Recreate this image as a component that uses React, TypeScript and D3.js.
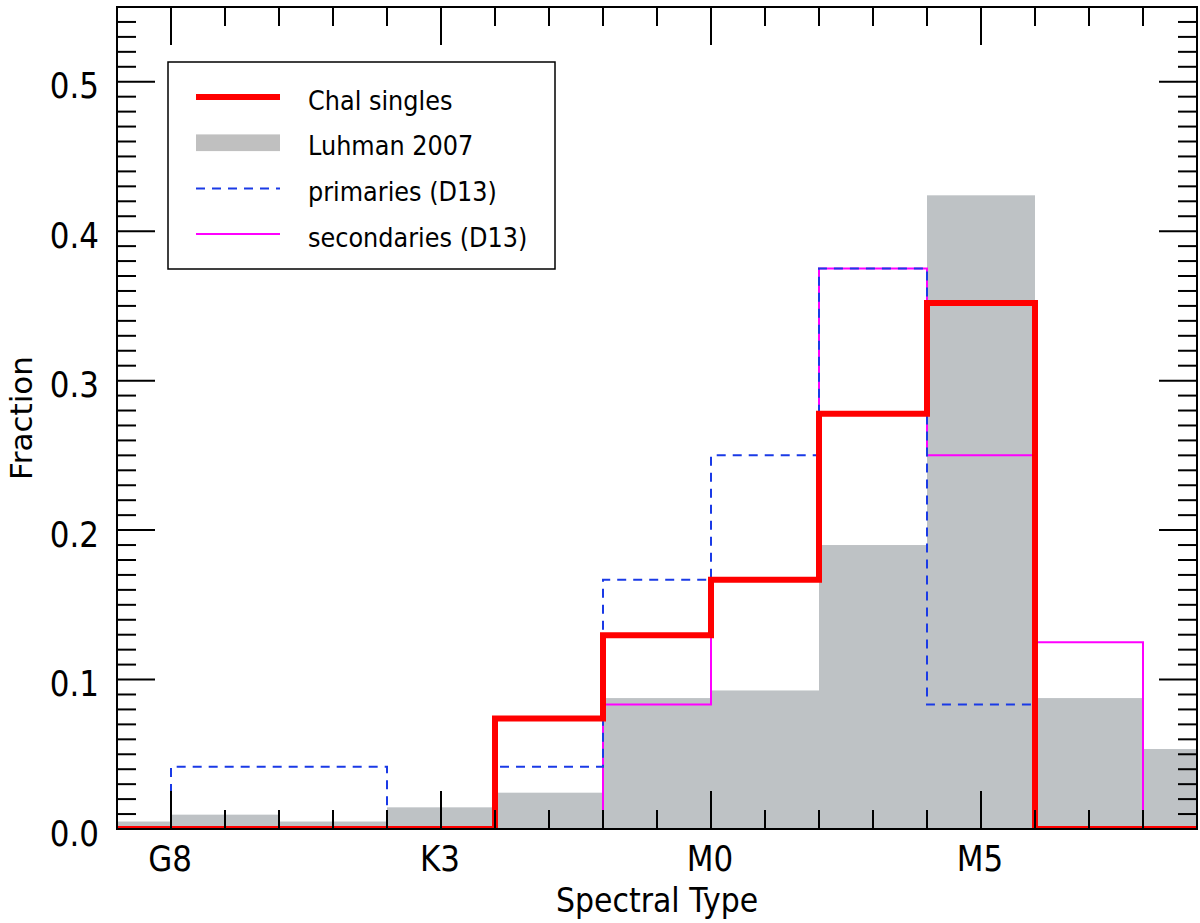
import * as d3 from 'd3'

// histogram bins: 2 subtypes wide, G8 = 0, K3 = 5, M0 = 10, M5 = 15
const binStarts = [-2, 0, 2, 4, 6, 8, 10, 12, 14, 16, 18]
const binWidth = 2

const luhman = [0.005, 0.0096, 0.005, 0.0145, 0.0243, 0.0876, 0.0927, 0.19, 0.424, 0.0876, 0.0535]
const chalSingles = [0, 0, 0, 0, 0.074, 0.1296, 0.1667, 0.2778, 0.3519, 0, 0]
const primaries = [0, 0.0417, 0.0417, 0, 0.0417, 0.1667, 0.25, 0.375, 0.0833, 0, 0]
const secondaries = [0, 0, 0, 0, 0, 0.0833, 0.1667, 0.375, 0.25, 0.125, 0]

const xTickLabels = [
  { value: 0, label: 'G8' },
  { value: 5, label: 'K3' },
  { value: 10, label: 'M0' },
  { value: 15, label: 'M5' }
]
const yTickLabels = ['0.0', '0.1', '0.2', '0.3', '0.4', '0.5']

const legendItems = ['Chal singles', 'Luhman 2007', 'primaries (D13)', 'secondaries (D13)']

const W = 1200
const H = 923
const margin = { left: 117, right: 3, top: 7, bottom: 94 }
const FONT = 'DejaVu Sans, sans-serif'

export default function App() {
  const x = d3.scaleLinear().domain([-1, 19]).range([margin.left, W - margin.right])
  const y = d3.scaleLinear().domain([0, 0.55]).range([H - margin.bottom, margin.top])
  const [x0, x1] = x.range()
  const [yb, yt] = y.range()

  const stepLine = d3.line<[number, number]>()
    .x(d => x(d[0]))
    .y(d => y(d[1]))
    .curve(d3.curveStepAfter)

  const stepPath = (vals: number[]) => {
    const pts: [number, number][] = binStarts.map((s, i) => [s, vals[i]])
    pts.push([binStarts[binStarts.length - 1] + binWidth, vals[vals.length - 1]])
    return stepLine(pts) || ''
  }

  const xMinor = d3.range(-1, 20, 1)
  const yMinor = d3.range(0, 56).map(i => i / 100)

  const majorLen = 38
  const minorLen = 19

  const legend = { x: 168, y: 62, w: 387, h: 207 }
  const rowY = (i: number) => 97 + i * 45.7

  return (
    <svg width={W} height={H} style={{ position: 'absolute', left: 0, top: 0, background: '#fff' }}>
      <defs>
        <clipPath id="plotClip">
          <rect x={x0} y={yt} width={x1 - x0} height={yb - yt} />
        </clipPath>
      </defs>

      <g clipPath="url(#plotClip)">
        {binStarts.map((s, i) => (
          <rect
            key={i}
            x={x(s)}
            y={y(luhman[i])}
            width={x(s + binWidth) - x(s)}
            height={yb - y(luhman[i])}
            fill="#bec2c5"
          />
        ))}
        <path d={stepPath(secondaries)} fill="none" stroke="#f0f" strokeWidth={2} />
        <path d={stepPath(primaries)} fill="none" stroke="#1a3ae6" strokeWidth={2} strokeDasharray="9,7" />
        <path d={stepPath(chalSingles)} fill="none" stroke="#ff0000" strokeWidth={6} strokeLinejoin="miter" />
      </g>

      {/* frame */}
      <rect x={x0} y={yt} width={x1 - x0} height={yb - yt} fill="none" stroke="#000" strokeWidth={2} />

      {/* x ticks, bottom and top */}
      {xMinor.map(v => {
        const len = v % 5 === 0 ? majorLen : minorLen
        return (
          <g key={'xt' + v} stroke="#000" strokeWidth={2}>
            <line x1={x(v)} x2={x(v)} y1={yb} y2={yb - len} />
            <line x1={x(v)} x2={x(v)} y1={yt} y2={yt + len} />
          </g>
        )
      })}

      {/* y ticks, left and right */}
      {yMinor.map((v, i) => {
        const len = i % 10 === 0 ? majorLen : minorLen
        return (
          <g key={'yt' + i} stroke="#000" strokeWidth={2}>
            <line x1={x0} x2={x0 + len} y1={y(v)} y2={y(v)} />
            <line x1={x1} x2={x1 - len} y1={y(v)} y2={y(v)} />
          </g>
        )
      })}

      {/* tick labels */}
      {yTickLabels.map((t, i) => (
        <text
          key={'yl' + t}
          transform={`translate(99,${y(i / 10) + 16.5}) scale(1,1.12)`}
          textAnchor="end"
          fontFamily={FONT}
          fontSize={31}
          fill="#000"
        >
          {t}
        </text>
      ))}
      {xTickLabels.map(t => (
        <text
          key={'xl' + t.label}
          transform={`translate(${x(t.value) - 1},871) scale(1,1.12)`}
          textAnchor="middle"
          fontFamily={FONT}
          fontSize={31}
          fill="#000"
        >
          {t.label}
        </text>
      ))}

      {/* axis titles */}
      <text
        transform={`translate(${(x0 + x1) / 2},912) scale(1,1.12)`}
        textAnchor="middle"
        fontFamily={FONT}
        fontSize={30}
        fill="#000"
      >
        Spectral Type
      </text>
      <text
        transform={`translate(32,${(yb + yt) / 2}) rotate(-90)`}
        textAnchor="middle"
        fontFamily={FONT}
        fontSize={31}
        fill="#000"
      >
        Fraction
      </text>

      {/* legend */}
      <rect x={legend.x} y={legend.y} width={legend.w} height={legend.h} fill="#fff" stroke="#000" strokeWidth={1.5} />
      <line x1={196} x2={280} y1={rowY(0)} y2={rowY(0)} stroke="#ff0000" strokeWidth={6} />
      <rect x={196} y={rowY(1) - 8.3} width={84} height={16.7} fill="#c0c0c0" />
      <line x1={196} x2={280} y1={rowY(2)} y2={rowY(2)} stroke="#1a3ae6" strokeWidth={2} strokeDasharray="9,7" />
      <line x1={196} x2={280} y1={rowY(3)} y2={rowY(3)} stroke="#f0f" strokeWidth={2} />
      {legendItems.map((t, i) => (
        <text
          key={t}
          transform={`translate(308,${rowY(i) + 12.5}) scale(1,1.12)`}
          fontFamily={FONT}
          fontSize={24}
          fill="#000"
        >
          {t}
        </text>
      ))}
    </svg>
  )
}
